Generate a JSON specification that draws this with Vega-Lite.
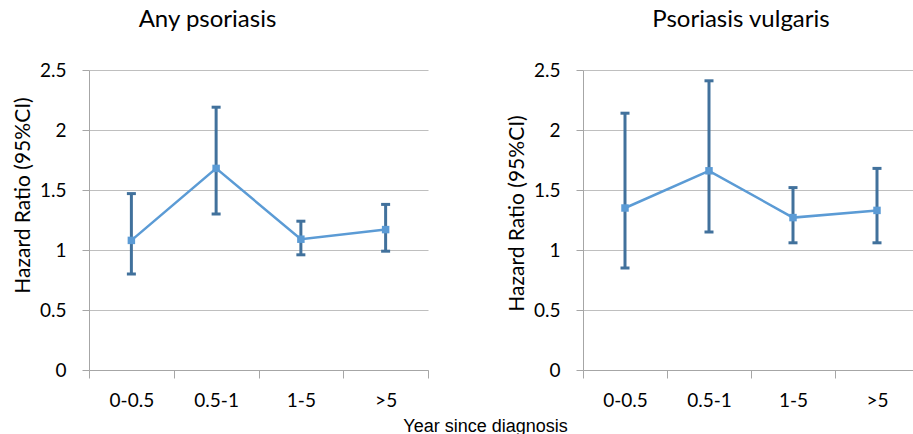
{
  "$schema": "https://vega.github.io/schema/vega-lite/v6.json",
  "background": "white",
  "autosize": {"type": "none"},
  "padding": {"left": 89, "top": 70, "right": 824, "bottom": 364},
  "datasets": {
    "any": [
      {"period": "0-0.5", "hr": 1.08, "lo": 0.80, "hi": 1.47},
      {"period": "0.5-1", "hr": 1.68, "lo": 1.30, "hi": 2.19},
      {"period": "1-5", "hr": 1.09, "lo": 0.96, "hi": 1.24},
      {"period": ">5", "hr": 1.17, "lo": 0.99, "hi": 1.38}
    ],
    "vulg": [
      {"period": "0-0.5", "hr": 1.35, "lo": 0.85, "hi": 2.14},
      {"period": "0.5-1", "hr": 1.66, "lo": 1.15, "hi": 2.41},
      {"period": "1-5", "hr": 1.27, "lo": 1.06, "hi": 1.52},
      {"period": ">5", "hr": 1.33, "lo": 1.06, "hi": 1.68}
    ]
  },
  "config": {
    "view": {"stroke": null},
    "font": "Lato",
    "axis": {
      "labelFont": "Lato", "labelFontSize": 19, "labelColor": "#000",
      "titleFont": "Lato", "titleFontSize": 21, "titleFontWeight": "normal", "titleColor": "#000",
      "domainColor": "#A6A6A6", "tickColor": "#A6A6A6", "gridColor": "#BFBFBF",
      "domainWidth": 1, "tickWidth": 1
    },
    "axisY": {"grid": true, "tickSize": 7, "labelPadding": 16, "titlePadding": 6},
    "axisX": {"grid": false, "tickSize": 8, "tickBand": "extent", "labelPadding": 13, "labelAngle": 0},
    "title": {"font": "Lato", "fontSize": 24, "fontWeight": "normal", "color": "#000"}
  },
  "bounds": "flush",
  "spacing": 155,
  "hconcat": [
    {
      "width": 339, "height": 300,
      "title": {"text": "Any psoriasis", "dx": -51, "offset": 29},
      "data": {"name": "any"},
      "encoding": {
        "x": {"field": "period", "type": "nominal", "sort": null, "bandPosition": 0.5,
          "scale": {"type": "band", "paddingInner": 0, "paddingOuter": 0, "domain": ["0-0.5", "0.5-1", "1-5", ">5"]},
          "axis": {"title": "Year since diagnosis", "titleX": 396, "titleY": 61, "titleBaseline": "alphabetic", "titleFont": "Liberation Sans", "titleFontSize": 18}}
      },
      "layer": [
        {"mark": {"type": "rule", "color": "#41719C", "strokeWidth": 3},
         "encoding": {"y": {"field": "lo", "type": "quantitative", "title": "Hazard Ratio (95%CI)", "scale": {"domain": [0, 2.5], "nice": false}, "axis": {"titleY": 125, "values": [0, 0.5, 1, 1.5, 2, 2.5], "format": "~g"}}, "y2": {"field": "hi"}}},
        {"mark": {"type": "tick", "color": "#41719C", "thickness": 3, "size": 9, "opacity": 1},
         "encoding": {"y": {"field": "lo", "type": "quantitative", "title": "Hazard Ratio (95%CI)"}}},
        {"mark": {"type": "tick", "color": "#41719C", "thickness": 3, "size": 9, "opacity": 1},
         "encoding": {"y": {"field": "hi", "type": "quantitative", "title": "Hazard Ratio (95%CI)"}}},
        {"mark": {"type": "line", "color": "#5B9BD5", "strokeWidth": 2.5},
         "encoding": {"y": {"field": "hr", "type": "quantitative", "title": "Hazard Ratio (95%CI)"}}},
        {"mark": {"type": "square", "color": "#5B9BD5", "size": 56, "opacity": 1, "filled": true},
         "encoding": {"y": {"field": "hr", "type": "quantitative", "title": "Hazard Ratio (95%CI)"}}}
      ]
    },
    {
      "width": 336, "height": 300,
      "title": {"text": "Psoriasis vulgaris", "dx": -10, "offset": 29},
      "data": {"name": "vulg"},
      "encoding": {
        "x": {"field": "period", "type": "nominal", "sort": null, "bandPosition": 0.5,
          "scale": {"type": "band", "paddingInner": 0, "paddingOuter": 0, "domain": ["0-0.5", "0.5-1", "1-5", ">5"]},
          "axis": {"title": null}}
      },
      "layer": [
        {"mark": {"type": "rule", "color": "#41719C", "strokeWidth": 3},
         "encoding": {"y": {"field": "lo", "type": "quantitative", "title": "Hazard Ratio (95%CI)", "scale": {"domain": [0, 2.5], "nice": false}, "axis": {"titleY": 143, "values": [0, 0.5, 1, 1.5, 2, 2.5], "format": "~g"}}, "y2": {"field": "hi"}}},
        {"mark": {"type": "tick", "color": "#41719C", "thickness": 3, "size": 9, "opacity": 1},
         "encoding": {"y": {"field": "lo", "type": "quantitative", "title": "Hazard Ratio (95%CI)"}}},
        {"mark": {"type": "tick", "color": "#41719C", "thickness": 3, "size": 9, "opacity": 1},
         "encoding": {"y": {"field": "hi", "type": "quantitative", "title": "Hazard Ratio (95%CI)"}}},
        {"mark": {"type": "line", "color": "#5B9BD5", "strokeWidth": 2.5},
         "encoding": {"y": {"field": "hr", "type": "quantitative", "title": "Hazard Ratio (95%CI)"}}},
        {"mark": {"type": "square", "color": "#5B9BD5", "size": 56, "opacity": 1, "filled": true},
         "encoding": {"y": {"field": "hr", "type": "quantitative", "title": "Hazard Ratio (95%CI)"}}}
      ]
    }
  ]
}
